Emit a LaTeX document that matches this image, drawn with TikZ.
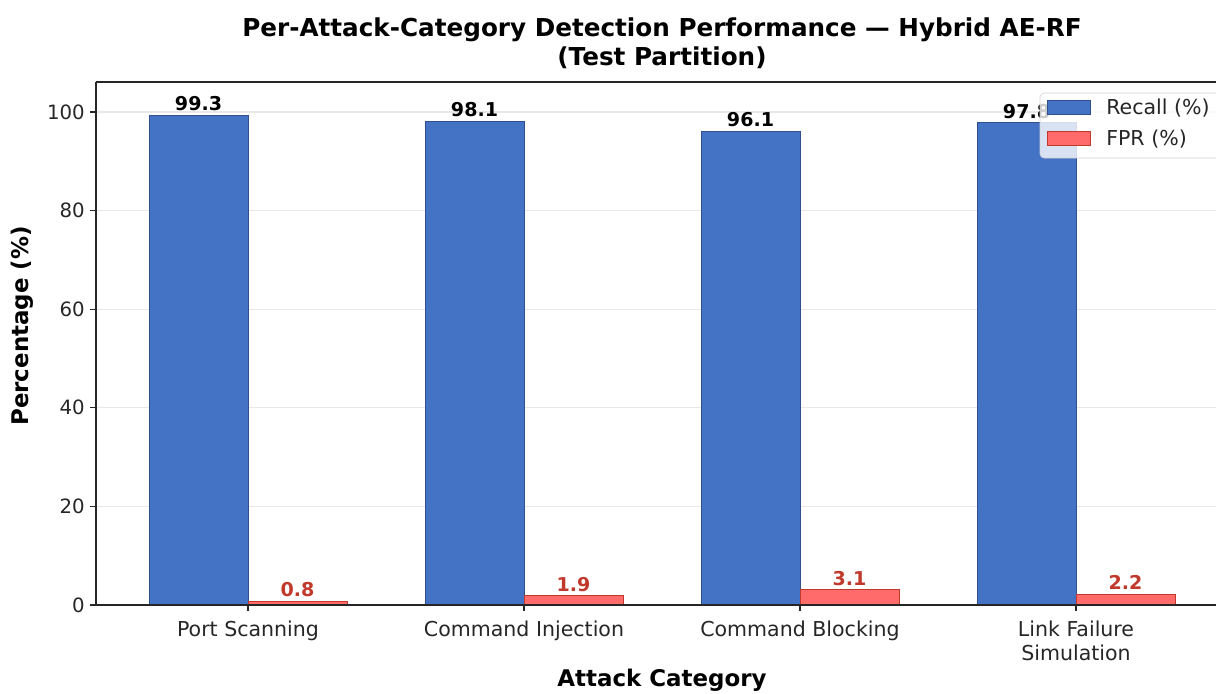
\documentclass[tikz,border=0pt]{standalone}
\usepackage{fontspec}
\setmainfont{DejaVu Sans}
\usetikzlibrary{calc}
\definecolor{recallblue}{HTML}{4472C4}
\definecolor{recalledge}{HTML}{2F4F8F}
\definecolor{fprred}{HTML}{FF6B6B}
\definecolor{fpredge}{HTML}{C0392B}
\definecolor{gridgray}{HTML}{E8E8E8}

\begin{document}
\begin{tikzpicture}[x=0.75pt,y=-0.75pt,
    tick/.style={font=\fontsize{15.4}{17.5}\selectfont, text=black!85, inner sep=0pt},
    axlabel/.style={font=\bfseries\fontsize{17.2}{20}\selectfont, inner sep=0pt},
    recallbar/.style={fill=recallblue, draw=recalledge, line width=0.6pt},
    fprbar/.style={fill=fprred, draw=fpredge, line width=0.6pt},
    vallabel/.style={font=\bfseries\fontsize{14.3}{17}\selectfont, anchor=south, inner sep=3pt},
    spine/.style={line width=1pt, black!85}]
  \useasboundingbox (0,0) rectangle (1216,693);

  % grid lines
  \foreach \v in {20,40,...,100} {
    \pgfmathsetmacro{\py}{605-4.93*\v}
    \draw[gridgray, line width=0.8pt] (96,\py) -- (1216,\py);
  }

  % bars and value labels
  \foreach \c/\r/\f [count=\i] in {248/99.3/0.8, 524/98.1/1.9, 800/96.1/3.1, 1076/97.8/2.2} {
    \pgfmathsetmacro{\ry}{605-4.93*\r}
    \pgfmathsetmacro{\fy}{605-4.93*\f}
    \draw[recallbar] (\c-99,605) rectangle (\c,\ry);
    \draw[fprbar] (\c,605) rectangle (\c+99,\fy);
    \node[vallabel] (rval-\i) at (\c-49.5,\ry) {\r};
    \node[vallabel, text=fpredge] (fval-\i) at (\c+49.5,\fy) {\f};
  }

  % spines and ticks
  \draw[spine] (96,82) -- (96,605) -- (1216,605);
  \draw[spine] (96,82) -- (1216,82);
  \foreach \v in {0,20,...,100} {
    \pgfmathsetmacro{\py}{605-4.93*\v}
    \draw[spine] (96,\py) -- (90,\py);
    \node[tick, anchor=east, font=\fontsize{14.8}{17}\selectfont] (ytick-\v) at (85,\py) {\v};
  }
  \foreach \c/\name [count=\i] in {248/Port Scanning, 524/Command Injection,
      800/Command Blocking, 1076/{Link Failure\\Simulation}} {
    \draw[spine] (\c,605) -- (\c,611);
    \node[tick, anchor=north, align=center] (xtick-\i) at (\c,621) {\name};
  }

  % axis labels and title
  \node[axlabel, rotate=90] (ylabel) at (22,326) {Percentage (\%)};
  \node[axlabel] (xlabel) at (662,680) {Attack Category};
  \node[font=\bfseries\fontsize{18.5}{22}\selectfont, align=center, inner sep=0pt]
    (title) at (662,43) {Per-Attack-Category Detection Performance — Hybrid AE-RF\\(Test Partition)};

  % legend
  \draw[rounded corners=3pt, draw=black!18, fill=white, fill opacity=0.8]
    (1040,93) rectangle (1232,158);
  \draw[recallbar] (1047,100) rectangle (1090,114);
  \draw[fprbar] (1047,131) rectangle (1090,145);
  \node[tick, anchor=west] (leg-recall) at (1106,108) {Recall (\%)};
  \node[tick, anchor=west] (leg-fpr) at (1106,139) {FPR (\%)};
\end{tikzpicture}
\end{document}
